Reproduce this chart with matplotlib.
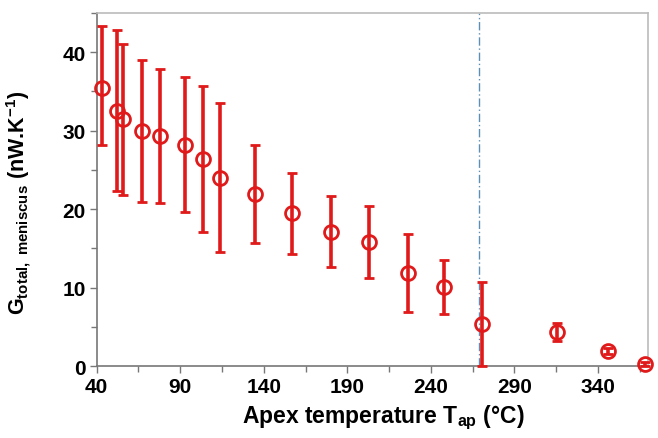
import matplotlib
matplotlib.use("Agg")
import matplotlib.pyplot as plt
from matplotlib.ticker import FixedLocator

plt.rcParams['font.family'] = ['Liberation Sans', 'DejaVu Sans']
plt.rcParams['mathtext.fontset'] = 'custom'
plt.rcParams['mathtext.rm'] = 'Liberation Sans:bold'
plt.rcParams['mathtext.bf'] = 'Liberation Sans:bold'
plt.rcParams['mathtext.it'] = 'Liberation Sans:bold'

temps = [43, 52, 56, 67, 78, 93, 103.5, 114, 135, 157, 180, 203, 226, 248, 270.5, 315.5, 346, 368]
g_vals = [35.5, 32.5, 31.5, 29.9, 29.3, 28.2, 26.4, 24.0, 21.9, 19.5, 17.1, 15.8, 11.8, 10.1, 5.35, 4.3, 1.9, 0.25]
err_up = [43.3, 42.8, 41.1, 39.0, 37.9, 36.9, 35.7, 33.5, 28.2, 24.6, 21.7, 20.4, 16.8, 13.5, 10.7, 5.5, 2.3, 0.5]
err_low = [28.2, 22.3, 21.8, 20.9, 20.8, 19.6, 17.1, 14.5, 15.7, 14.3, 12.6, 11.2, 6.9, 6.6, 0.0, 3.2, 1.5, 0.0]
vline_x = 269
xticks = [40, 90, 140, 190, 240, 290, 340]
yticks = [0, 10, 20, 30, 40]

fig = plt.figure(figsize=(6.58, 4.39), dpi=100)
ax = fig.add_axes([0.147, 0.164, 0.838, 0.804])

yerr = [[g - lo for g, lo in zip(g_vals, err_low)], [hi - g for g, hi in zip(g_vals, err_up)]]
red = '#e01a1a'
ax.errorbar(temps, g_vals, yerr=yerr, fmt='o', mfc='none', mec=red, ms=10, mew=2.0,
            ecolor=red, elinewidth=2.6, capsize=3.6, capthick=2.4, clip_on=False, zorder=3)
ax.axvline(vline_x, color='#5b8fb5', lw=1.0, ls=(0, (6, 2, 1, 2)), zorder=2)

ax.set_xlim(40, 370)
ax.set_ylim(0, 45)
ax.xaxis.set_major_locator(FixedLocator(xticks))
ax.xaxis.set_minor_locator(FixedLocator([x + 25 for x in xticks]))
ax.yaxis.set_major_locator(FixedLocator(yticks))
ax.yaxis.set_minor_locator(FixedLocator([y + 5 for y in yticks]))
ax.tick_params(which='both', direction='out', color='#777777', labelsize=15, pad=3)
ax.tick_params(which='major', length=5, width=1)
ax.tick_params(which='minor', length=4, width=1)
for lbl in ax.get_xticklabels() + ax.get_yticklabels():
    lbl.set_fontweight('bold')

for s in ['left', 'bottom']:
    ax.spines[s].set_color('#777777')
    ax.spines[s].set_linewidth(1.2)
for s in ['top', 'right']:
    ax.spines[s].set_color('#bbbbbb')
    ax.spines[s].set_linewidth(1.2)

ax.set_xlabel(r'Apex temperature T$_{\mathrm{ap}}$ (°C)', fontsize=16.5, fontweight='bold')
ax.set_ylabel(r'G$_{\mathrm{total,\ meniscus}}$ (nW.K$^{\mathrm{-1}}$)', fontsize=15.5, fontweight='bold')
ax.xaxis.set_label_coords(0.52, -0.105)
ax.yaxis.set_label_coords(-0.115, 0.465)

fig.savefig('out.png', dpi=100)
